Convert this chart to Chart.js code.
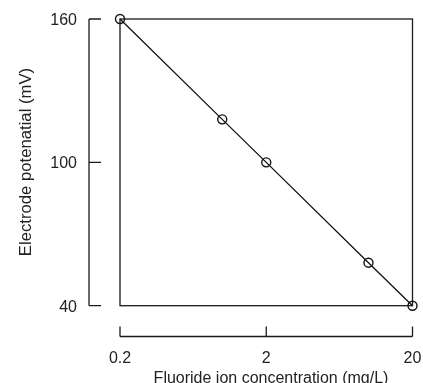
<!DOCTYPE html>
<html>
<head>
<meta charset="utf-8">
<script src="https://cdn.jsdelivr.net/npm/chart.js@4/dist/chart.umd.min.js"></script>
<style>
  html, body { margin: 0; padding: 0; background: #fff; }
  #wrap { width: 423px; height: 383px; }
</style>
</head>
<body>
<div id="wrap"><canvas id="myChart" width="423" height="383"></canvas></div>
<script>
const concentrations = [0.2, 1, 2, 10, 20];
const potentials = [160, 118, 100, 58, 40];
const xTicks = [0.2, 2, 20];
const yTicks = [40, 100, 160];
const xTitle = "Fluoride ion concentration (mg/L)";
const yTitle = "Electrode potenatial (mV)";

const FONT = "16px 'Liberation Sans', Arial, sans-serif";

// R-style box and detached axes
const baseAxes = {
  id: "baseAxes",
  afterDraw(chart) {
    const { ctx, chartArea: a, scales } = chart;
    const xs = scales.x, ys = scales.y;
    ctx.save();
    ctx.strokeStyle = "#1a1a1a";
    ctx.lineWidth = 1.3;
    ctx.strokeRect(a.left, a.top, a.right - a.left, a.bottom - a.top);

    // y axis
    const yx = 89;
    ctx.beginPath();
    ctx.moveTo(yx, ys.getPixelForValue(yTicks[0]));
    ctx.lineTo(yx, ys.getPixelForValue(yTicks[yTicks.length - 1]));
    yTicks.forEach((t) => {
      const py = ys.getPixelForValue(t);
      ctx.moveTo(yx, py);
      ctx.lineTo(yx + 12, py);
    });
    ctx.stroke();

    // x axis
    const xy = 336.5;
    ctx.beginPath();
    ctx.moveTo(xs.getPixelForValue(xTicks[0]), xy);
    ctx.lineTo(xs.getPixelForValue(xTicks[xTicks.length - 1]), xy);
    xTicks.forEach((t) => {
      const px = xs.getPixelForValue(t);
      ctx.moveTo(px, xy);
      ctx.lineTo(px, xy - 10);
    });
    ctx.stroke();

    ctx.fillStyle = "#222";
    ctx.font = FONT;
    ctx.textBaseline = "alphabetic";
    ctx.textAlign = "right";
    yTicks.forEach((t) => {
      ctx.fillText(String(t), 77, ys.getPixelForValue(t) + 6);
    });
    ctx.textAlign = "center";
    xTicks.forEach((t) => {
      ctx.fillText(String(t), xs.getPixelForValue(t), 363);
    });
    ctx.fillText(xTitle, 271, 383);

    ctx.font = "16.7px 'Liberation Sans', Arial, sans-serif";
    ctx.translate(31, 162);
    ctx.rotate(-Math.PI / 2);
    ctx.fillText(yTitle, 0, 0);
    ctx.restore();
  },
};

new Chart(document.getElementById("myChart"), {
  type: "line",
  data: {
    labels: concentrations,
    datasets: [
      {
        data: concentrations.map((c, i) => ({ x: c, y: potentials[i] })),
        borderColor: "#111",
        borderWidth: 1.3,
        pointRadius: 4.5,
        pointBorderWidth: 1.4,
        pointBackgroundColor: "rgba(0,0,0,0)",
        pointBorderColor: "#111",
        tension: 0,
        clip: false,
      },
    ],
  },
  options: {
    responsive: false,
    animation: false,
    layout: { padding: { left: 120, right: 10.5, top: 19, bottom: 77.3 } },
    plugins: { legend: { display: false }, tooltip: { enabled: false } },
    scales: {
      x: { type: "logarithmic", min: 0.2, max: 20, display: false },
      y: { type: "linear", min: 40, max: 160, display: false },
    },
  },
  plugins: [baseAxes],
});
</script>
</body>
</html>
